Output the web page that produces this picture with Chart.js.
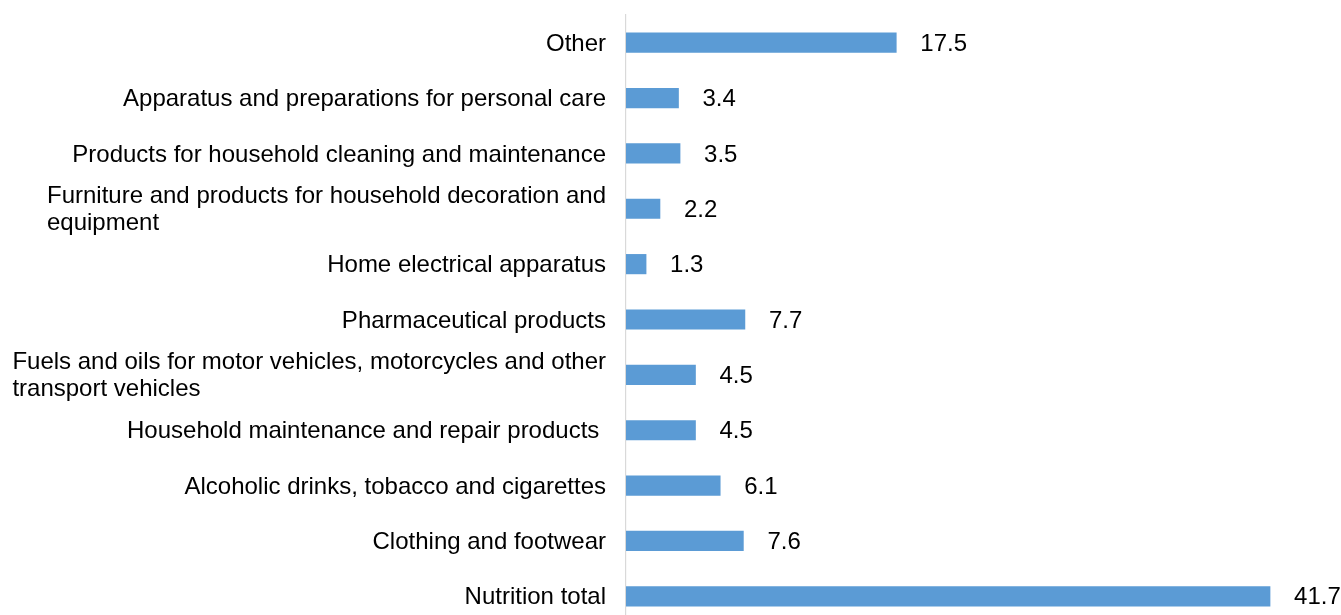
<!DOCTYPE html>
<html>
<head>
<meta charset="utf-8">
<script src="https://cdn.jsdelivr.net/npm/chart.js@4"></script>
<style>
  html, body { margin: 0; padding: 0; background: #fff; overflow: hidden; }
  #wrap { position: relative; width: 1341px; height: 624px; }
</style>
</head>
<body>
<div id="wrap"><canvas id="c"></canvas></div>
<script>
const categories = [
  ["Other"],
  ["Apparatus and preparations for personal care"],
  ["Products for household cleaning and maintenance"],
  ["Furniture and products for household decoration and", "equipment"],
  ["Home electrical apparatus"],
  ["Pharmaceutical products"],
  ["Fuels and oils for motor vehicles, motorcycles and other", "transport vehicles"],
  ["Household maintenance and repair products "],
  ["Alcoholic drinks, tobacco and cigarettes"],
  ["Clothing and footwear"],
  ["Nutrition total"]
];
const values = [17.5, 3.4, 3.5, 2.2, 1.3, 7.7, 4.5, 4.5, 6.1, 7.6, 41.7];
const valueLabels = ["17.5", "3.4", "3.5", "2.2", "1.3", "7.7", "4.5", "4.5", "6.1", "7.6", "41.7"];
const xMax = 45;

const FONT = '24px "Liberation Sans", Arial, sans-serif';

const labelPlugin = {
  id: 'customLabels',
  afterDatasetsDraw(chart) {
    const ctx = chart.ctx;
    const ys = chart.scales.y;
    const xs = chart.scales.x;
    ctx.save();
    ctx.font = FONT;
    ctx.fillStyle = '#000';
    ctx.textBaseline = 'middle';
    const right = chart.chartArea.left - 20;
    const lh = 27;
    categories.forEach((lines, i) => {
      const cy = ys.getPixelForValue(i);
      let maxW = 0;
      lines.forEach(l => { maxW = Math.max(maxW, ctx.measureText(l).width); });
      const x0 = right - maxW;
      ctx.textAlign = 'left';
      lines.forEach((l, k) => {
        const y = cy - (lines.length - 1) * lh / 2 + k * lh;
        ctx.fillText(l, x0, y + 1.5);
      });
      const xe = xs.getPixelForValue(values[i]);
      ctx.fillText(valueLabels[i], xe + 24, cy + 1.5);
    });
    ctx.restore();
  }
};

new Chart(document.getElementById('c'), {
  type: 'bar',
  data: {
    labels: categories.map(c => c.join(' ')),
    datasets: [{
      data: values,
      backgroundColor: '#5B9BD5',
      borderWidth: 0,
      barThickness: 19.5
    }]
  },
  options: {
    indexAxis: 'y',
    responsive: true,
    maintainAspectRatio: false,
    animation: false,
    layout: { padding: { top: 15, bottom: 0, left: 0, right: 20 } },
    plugins: { legend: { display: false }, tooltip: { enabled: false } },
    scales: {
      x: {
        display: false,
        min: 0,
        max: xMax
      },
      y: {
        grid: { display: false, drawTicks: false },
        border: { display: true, color: '#d9d9d9', width: 1.2 },
        ticks: { display: false },
        afterFit(scale) { scale.width = 626; }
      }
    }
  },
  plugins: [labelPlugin]
});
</script>
</body>
</html>
